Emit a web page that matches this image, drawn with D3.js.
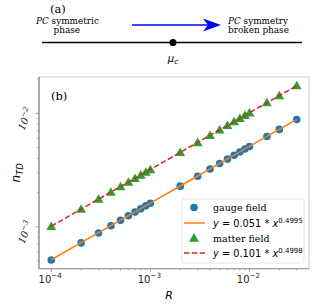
<!DOCTYPE html>
<html>
<head>
<meta charset="utf-8">
<script src="https://cdn.jsdelivr.net/npm/d3@7"></script>
<style>
  body { margin: 0; background: #fff; }
  svg { display: block; }
  .serif { font-family: "DejaVu Serif", "Liberation Serif", serif; }
  .sans { font-family: "DejaVu Sans", sans-serif; }
</style>
</head>
<body>
<svg id="main" width="317" height="304"></svg>
<script>
// R values (x) shared by both series
var rValues = [1e-4, 2e-4, 3e-4, 4e-4, 5e-4, 6e-4, 7e-4, 8e-4, 9e-4,
               1e-3, 2e-3, 3e-3, 4e-3, 5e-3, 6e-3, 7e-3, 8e-3, 9e-3,
               1e-2, 1.5e-2, 2e-2, 3e-2];
var gaugeValues = [0.00051, 0.000721, 0.000883, 0.00102, 0.00114, 0.00125, 0.00135, 0.00144, 0.00153,
                   0.00161, 0.00228, 0.00279, 0.00323, 0.00361, 0.00395, 0.00427, 0.00456, 0.00484,
                   0.0051, 0.00625, 0.00721, 0.00883];
var matterValues = [0.00101, 0.00143, 0.00175, 0.00202, 0.00226, 0.00247, 0.00267, 0.00286, 0.00303,
                    0.00319, 0.00452, 0.00553, 0.00639, 0.00714, 0.00782, 0.00845, 0.00903, 0.00958,
                    0.0101, 0.0124, 0.0143, 0.0175];
// fit parameters y = a * x^b
var fitA = [0.051, 0.101];
var fitB = [0.4995, 0.4998];
var xTickLabels = ["-4", "-3", "-2"];
var yTickLabels = ["-3", "-2"];

var svg = d3.select("#main");

// ---------- panel (a) ----------
var ga = svg.append("g");
ga.append("text").attr("class", "serif").attr("x", 50).attr("y", 13)
  .style("font-size", "11.5px").text("(a)");

function phaseText(x, y, first) {
    var t = ga.append("text").attr("class", "serif").attr("x", x).attr("y", y)
        .style("font-size", "8.9px");
    t.append("tspan").style("font-style", "italic").text("PC");
    t.append("tspan").text(" " + first);
    return t;
}
phaseText(36, 24, "symmetric");
ga.append("text").attr("class", "serif").attr("x", 53.5).attr("y", 33)
  .style("font-size", "8.9px").text("phase");
phaseText(228, 24, "symmetry");
ga.append("text").attr("class", "serif").attr("x", 228).attr("y", 33)
  .style("font-size", "8.9px").text("broken phase");

// blue arrow
ga.append("line").attr("x1", 132).attr("y1", 25).attr("x2", 212).attr("y2", 25)
  .attr("stroke", "#0000ff").attr("stroke-width", 1.6);
ga.append("path").attr("d", "M221,25 L203,18.5 L208,25 L203,31.5 Z").attr("fill", "#0000ff");

ga.append("line").attr("x1", 42).attr("y1", 42.5).attr("x2", 302).attr("y2", 42.5)
  .attr("stroke", "#000").attr("stroke-width", 1.5);
ga.append("circle").attr("cx", 173).attr("cy", 42.5).attr("r", 3.6).attr("fill", "#000");
var mu = ga.append("text").attr("class", "sans").attr("x", 173).attr("y", 62)
  .attr("text-anchor", "middle").style("font-size", "10px").style("font-style", "italic");
mu.append("tspan").text("μ");
mu.append("tspan").attr("dy", 2).style("font-size", "7.5px").text("c");

// ---------- panel (b) ----------
var pLeft = 39, pRight = 309, pTop = 77, pBottom = 268.7;

function logPad(vals) {
    var lo = Math.log10(d3.min(vals)), hi = Math.log10(d3.max(vals));
    var m = (hi - lo) * 0.05;
    return [Math.pow(10, lo - m), Math.pow(10, hi + m)];
}
var x = d3.scaleLog().domain(logPad(rValues)).range([pLeft, pRight]);
var y = d3.scaleLog().domain(logPad(gaugeValues.concat(matterValues))).range([pBottom, pTop]);

var gb = svg.append("g");

// frame
gb.append("rect").attr("x", pLeft).attr("y", pTop).attr("width", pRight - pLeft).attr("height", pBottom - pTop)
  .attr("fill", "none").attr("stroke", "#bbb").attr("stroke-width", 0.8);
gb.append("line").attr("x1", pLeft).attr("x2", pLeft).attr("y1", pTop).attr("y2", pBottom)
  .attr("stroke", "#666").attr("stroke-width", 0.9);
gb.append("line").attr("x1", pLeft).attr("x2", pRight).attr("y1", pBottom).attr("y2", pBottom)
  .attr("stroke", "#888").attr("stroke-width", 0.9);

// x ticks
var xMajor = [1e-4, 1e-3, 1e-2];
var xMinor = [];
[1e-4, 1e-3, 1e-2].forEach(function(d){ for (var k = 2; k <= 9; k++) xMinor.push(d * k); });
xMinor = xMinor.filter(function(v){ return x(v) <= pRight; });
gb.selectAll(".xmin").data(xMinor).enter().append("line")
  .attr("x1", d => x(d)).attr("x2", d => x(d)).attr("y1", pBottom).attr("y2", pBottom + 2)
  .attr("stroke", "#888").attr("stroke-width", 0.6);
gb.selectAll(".xmaj").data(xMajor).enter().append("line")
  .attr("x1", d => x(d)).attr("x2", d => x(d)).attr("y1", pBottom).attr("y2", pBottom + 3.5)
  .attr("stroke", "#888").attr("stroke-width", 0.8);
xMajor.forEach(function(d, i){
    var t = gb.append("text").attr("class", "sans").attr("x", x(d) - 1).attr("y", pBottom + 14)
      .attr("text-anchor", "middle").style("font-size", "10px").attr("fill", "#222");
    t.append("tspan").text("10");
    t.append("tspan").attr("dy", -4.5).style("font-size", "7.2px").text("−" + xTickLabels[i].slice(1));
});

// y ticks
var yMajor = [1e-3, 1e-2];
var yMinor = [];
[1e-4, 1e-3, 1e-2].forEach(function(d){ for (var k = 2; k <= 9; k++) yMinor.push(d * k); });
yMinor = yMinor.filter(function(v){ var p = y(v); return p >= pTop && p <= pBottom; });
gb.selectAll(".ymin").data(yMinor).enter().append("line")
  .attr("x1", pLeft - 2).attr("x2", pLeft).attr("y1", d => y(d)).attr("y2", d => y(d))
  .attr("stroke", "#888").attr("stroke-width", 0.6);
gb.selectAll(".ymaj").data(yMajor).enter().append("line")
  .attr("x1", pLeft - 3.5).attr("x2", pLeft).attr("y1", d => y(d)).attr("y2", d => y(d))
  .attr("stroke", "#888").attr("stroke-width", 0.8);
yMajor.forEach(function(d, i){
    var t = gb.append("text").attr("class", "serif")
      .attr("transform", "translate(" + 28.5 + "," + (y(d) + 7) + ") rotate(-68)")
      .attr("text-anchor", "middle").style("font-size", "10px").style("font-style", "italic")
      .attr("fill", "#222");
    t.append("tspan").text("10");
    t.append("tspan").attr("dy", -4.5).style("font-size", "7.2px").text("−" + yTickLabels[i].slice(1));
});

// axis labels
var yl = gb.append("text").attr("class", "sans")
  .attr("transform", "translate(20," + ((pTop + pBottom) / 2) + ") rotate(-90)")
  .attr("text-anchor", "middle").style("font-size", "12px").style("font-style", "italic");
yl.append("tspan").text("n");
yl.append("tspan").attr("dy", 2.5).style("font-size", "8.5px").text("TD");
gb.append("text").attr("class", "sans").attr("x", 169).attr("y", 299)
  .attr("text-anchor", "middle").style("font-size", "11px").style("font-style", "italic").text("R");

gb.append("text").attr("class", "serif").attr("x", 51).attr("y", 100)
  .style("font-size", "11.5px").text("(b)");

// data
var gauge = rValues.map((r, i) => ({r: r, v: gaugeValues[i]}));
var matter = rValues.map((r, i) => ({r: r, v: matterValues[i]}));

gb.selectAll(".gauge").data(gauge).enter().append("circle")
  .attr("cx", d => x(d.r)).attr("cy", d => y(d.v)).attr("r", 3.8).attr("fill", "#1f77b4");

var tri = d3.symbol().type(d3.symbolTriangle).size(42);
gb.selectAll(".matter").data(matter).enter().append("path")
  .attr("d", tri).attr("transform", d => "translate(" + x(d.r) + "," + (y(d.v) + 0.8) + ")")
  .attr("fill", "#2ca02c");

var line = d3.line().x(d => x(d[0])).y(d => y(d[1]));
function fitPts(a, b) { return rValues.map(r => [r, a * Math.pow(r, b)]); }
gb.append("path").attr("d", line(fitPts(fitA[0], fitB[0])))
  .attr("fill", "none").attr("stroke", "#ff7f0e").attr("stroke-width", 1.5);
gb.append("path").attr("d", line(fitPts(fitA[1], fitB[1])))
  .attr("fill", "none").attr("stroke", "#d62728").attr("stroke-width", 1.5)
  .attr("stroke-dasharray", "5.5,2.4");

// legend
var lg = gb.append("g");
lg.append("rect").attr("x", 182).attr("y", 199).attr("width", 122).attr("height", 64).attr("rx", 2)
  .attr("fill", "rgba(255,255,255,0.85)").attr("stroke", "#ddd").attr("stroke-width", 0.8);
var rows = [207.5, 223, 238, 253];
lg.append("circle").attr("cx", 194).attr("cy", rows[0]).attr("r", 3.8).attr("fill", "#1f77b4");
lg.append("line").attr("x1", 184).attr("x2", 205).attr("y1", rows[1]).attr("y2", rows[1])
  .attr("stroke", "#ff7f0e").attr("stroke-width", 1.5);
lg.append("path").attr("d", tri).attr("transform", "translate(194," + (rows[2] + 0.8) + ")").attr("fill", "#2ca02c");
lg.append("line").attr("x1", 184).attr("x2", 205).attr("y1", rows[3]).attr("y2", rows[3])
  .attr("stroke", "#d62728").attr("stroke-width", 1.5).attr("stroke-dasharray", "5.5,2.4");

lg.append("text").attr("class", "serif").attr("x", 213).attr("y", rows[0] + 3.5)
  .style("font-size", "9.5px").text("gauge field");
lg.append("text").attr("class", "serif").attr("x", 213).attr("y", rows[2] + 3.5)
  .style("font-size", "9.5px").text("matter field");
function fitLabel(rowY, a, b) {
    var t = lg.append("text").attr("class", "sans").attr("x", 213).attr("y", rowY + 3.5)
      .style("font-size", "9.8px");
    t.append("tspan").style("font-style", "italic").text("y");
    t.append("tspan").text(" = " + a + " * ");
    t.append("tspan").style("font-style", "italic").text("x");
    t.append("tspan").attr("dy", -4).style("font-size", "7px").text(b);
}
fitLabel(rows[1], fitA[0], fitB[0]);
fitLabel(rows[3], fitA[1], fitB[1]);
</script>
</body>
</html>
